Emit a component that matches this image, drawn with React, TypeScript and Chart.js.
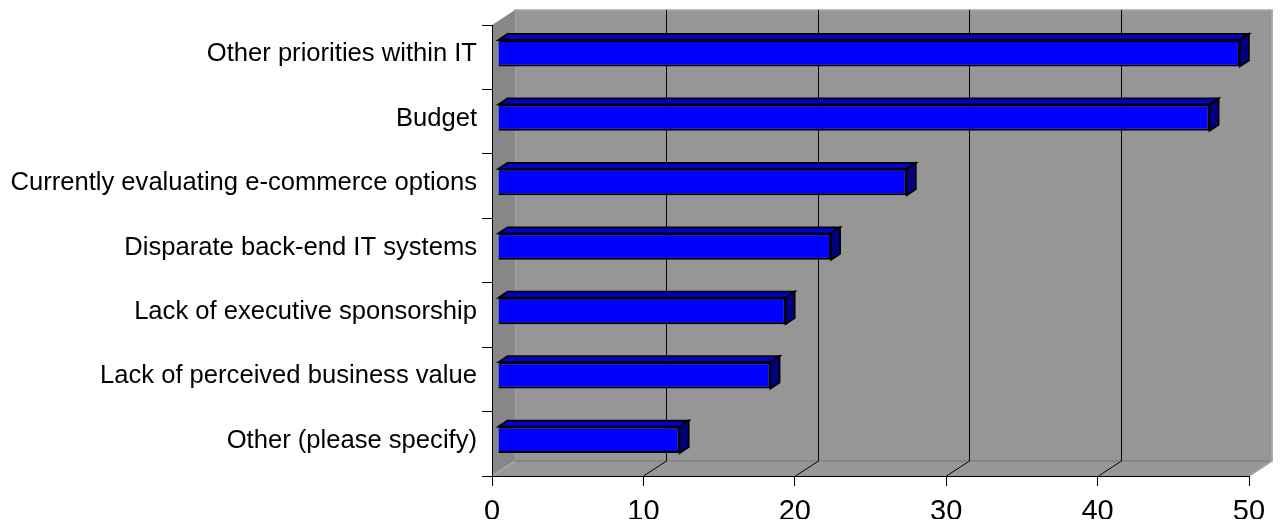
import React, { useEffect, useRef } from "react";
import { Chart, registerables } from "chart.js";

Chart.register(...registerables);

const categories = [
  "Other priorities within IT",
  "Budget",
  "Currently evaluating e-commerce options",
  "Disparate back-end IT systems",
  "Lack of executive sponsorship",
  "Lack of perceived business value",
  "Other (please specify)",
];
const values = [49, 47, 27, 22, 19, 18, 12];
const xTickValues = [0, 10, 20, 30, 40, 50];

const WALL_DX = 23;
const WALL_DY = 15;
const BAR_SHIFT_X = 6;
const BAR_SHIFT_Y = 4;
const BAR_DEPTH_X = 9;
const BAR_DEPTH_Y = 6;

const box3d = {
  id: "box3d",
  beforeDraw(chart: any) {
    const { ctx, chartArea, scales } = chart;
    const L = chartArea.left, R = chartArea.right, T = chartArea.top, B = chartArea.bottom;
    ctx.save();
    // back wall
    ctx.fillStyle = "#969696";
    ctx.fillRect(L + WALL_DX, T - WALL_DY, R - L, B - T);
    ctx.strokeStyle = "#a6a6a6";
    ctx.lineWidth = 1.5;
    ctx.strokeRect(L + WALL_DX, T - WALL_DY, R - L, B - T);
    // left wall
    ctx.fillStyle = "#878787";
    ctx.beginPath();
    ctx.moveTo(L, T);
    ctx.lineTo(L + WALL_DX, T - WALL_DY);
    ctx.lineTo(L + WALL_DX, B - WALL_DY);
    ctx.lineTo(L, B);
    ctx.closePath();
    ctx.fill();
    // floor
    ctx.fillStyle = "#979797";
    ctx.beginPath();
    ctx.moveTo(L, B);
    ctx.lineTo(L + WALL_DX, B - WALL_DY);
    ctx.lineTo(R + WALL_DX, B - WALL_DY);
    ctx.lineTo(R, B);
    ctx.closePath();
    ctx.fill();
    // floor edges
    ctx.strokeStyle = "#858585";
    ctx.lineWidth = 2;
    ctx.beginPath();
    ctx.moveTo(L + WALL_DX, B - WALL_DY);
    ctx.lineTo(R + WALL_DX, B - WALL_DY);
    ctx.stroke();
    ctx.strokeStyle = "#a6a6a6";
    ctx.lineWidth = 1.5;
    ctx.beginPath();
    ctx.moveTo(L, B);
    ctx.lineTo(L + WALL_DX, B - WALL_DY);
    ctx.moveTo(R, B);
    ctx.lineTo(R + WALL_DX, B - WALL_DY);
    ctx.lineTo(R + WALL_DX, T - WALL_DY);
    ctx.stroke();
    // grid lines on back wall and floor
    const xs = scales.x;
    ctx.strokeStyle = "#000";
    ctx.lineWidth = 1;
    for (const v of xTickValues) {
      if (v === xTickValues[0] || v === xTickValues[xTickValues.length - 1]) continue;
      const px = Math.round(xs.getPixelForValue(v)) + 0.5;
      ctx.beginPath();
      ctx.moveTo(px + WALL_DX, T - WALL_DY);
      ctx.lineTo(px + WALL_DX, B - WALL_DY);
      ctx.lineTo(px, B);
      ctx.stroke();
    }
    ctx.restore();
  },
  beforeDatasetsDraw(chart: any) {
    chart.ctx.save();
    chart.ctx.translate(BAR_SHIFT_X, -BAR_SHIFT_Y);
  },
  afterDatasetsDraw(chart: any) {
    const ctx = chart.ctx;
    const meta = chart.getDatasetMeta(0);
    ctx.lineWidth = 1.8;
    ctx.strokeStyle = "#000";
    ctx.lineJoin = "miter";
    for (const el of meta.data) {
      const { x, y, base, height } = el.getProps(["x", "y", "base", "height"], true);
      const top = y - height / 2;
      const bot = y + height / 2;
      // top face
      ctx.fillStyle = "#0000c8";
      ctx.beginPath();
      ctx.moveTo(base, top);
      ctx.lineTo(base + BAR_DEPTH_X, top - BAR_DEPTH_Y);
      ctx.lineTo(x + BAR_DEPTH_X, top - BAR_DEPTH_Y);
      ctx.lineTo(x, top);
      ctx.closePath();
      ctx.fill();
      ctx.stroke();
      // side face
      ctx.fillStyle = "#000080";
      ctx.beginPath();
      ctx.moveTo(x, top);
      ctx.lineTo(x + BAR_DEPTH_X, top - BAR_DEPTH_Y);
      ctx.lineTo(x + BAR_DEPTH_X, bot - BAR_DEPTH_Y);
      ctx.lineTo(x, bot);
      ctx.closePath();
      ctx.fill();
      ctx.stroke();
    }
    ctx.restore();
  },
};

export default function App() {
  const ref = useRef<HTMLCanvasElement | null>(null);
  useEffect(() => {
    if (!ref.current) return;
    const chart = new Chart(ref.current, {
      type: "bar",
      data: {
        labels: categories,
        datasets: [
          {
            data: values,
            backgroundColor: "#0000ff",
            borderColor: "#000",
            borderWidth: 2,
            barPercentage: 0.41,
            categoryPercentage: 1,
          },
        ],
      },
      options: {
        indexAxis: "y",
        animation: false,
        responsive: false,
        maintainAspectRatio: false,
        events: [],
        layout: { padding: { left: 0, right: 25, top: 17, bottom: 0 } },
        plugins: { legend: { display: false }, tooltip: { enabled: false } },
        scales: {
          x: {
            type: "linear",
            min: 0,
            max: 50,
            afterBuildTicks: (scale: any) => {
              scale.ticks = xTickValues.map((v) => ({ value: v }));
            },
            afterFit: (scale: any) => {
              scale.height = 51;
              scale.paddingLeft = 0;
              scale.paddingRight = 0;
            },
            grid: {
              drawOnChartArea: false,
              drawTicks: true,
              tickLength: 10,
              color: "#000",
              lineWidth: 1,
            },
            border: { display: true, color: "#000", width: 1 },
            ticks: {
              color: "#000",
              padding: 9,
              maxRotation: 0,
              font: { family: "'Liberation Sans', Arial, sans-serif", size: 29 },
            },
          },
          y: {
            type: "category",
            offset: true,
            afterFit: (scale: any) => {
              scale.width = 484;
              scale.paddingTop = 0;
              scale.paddingBottom = 0;
            },
            grid: {
              offset: true,
              drawOnChartArea: false,
              drawTicks: true,
              tickLength: 10,
              color: "#000",
              lineWidth: 1,
            },
            border: { display: true, color: "#000", width: 1 },
            ticks: {
              color: "#000",
              padding: 5,
              labelOffset: -3,
              autoSkip: false,
              font: { family: "'Liberation Sans', Arial, sans-serif", size: 25.6 },
            },
          },
        },
      },
      plugins: [box3d],
    } as any);
    return () => chart.destroy();
  }, []);
  return (
    <div style={{ width: 1266, height: 519, marginBottom: -8 }}>
      <canvas ref={ref} width={1266} height={519} style={{ display: "block" }} />
    </div>
  );
}
